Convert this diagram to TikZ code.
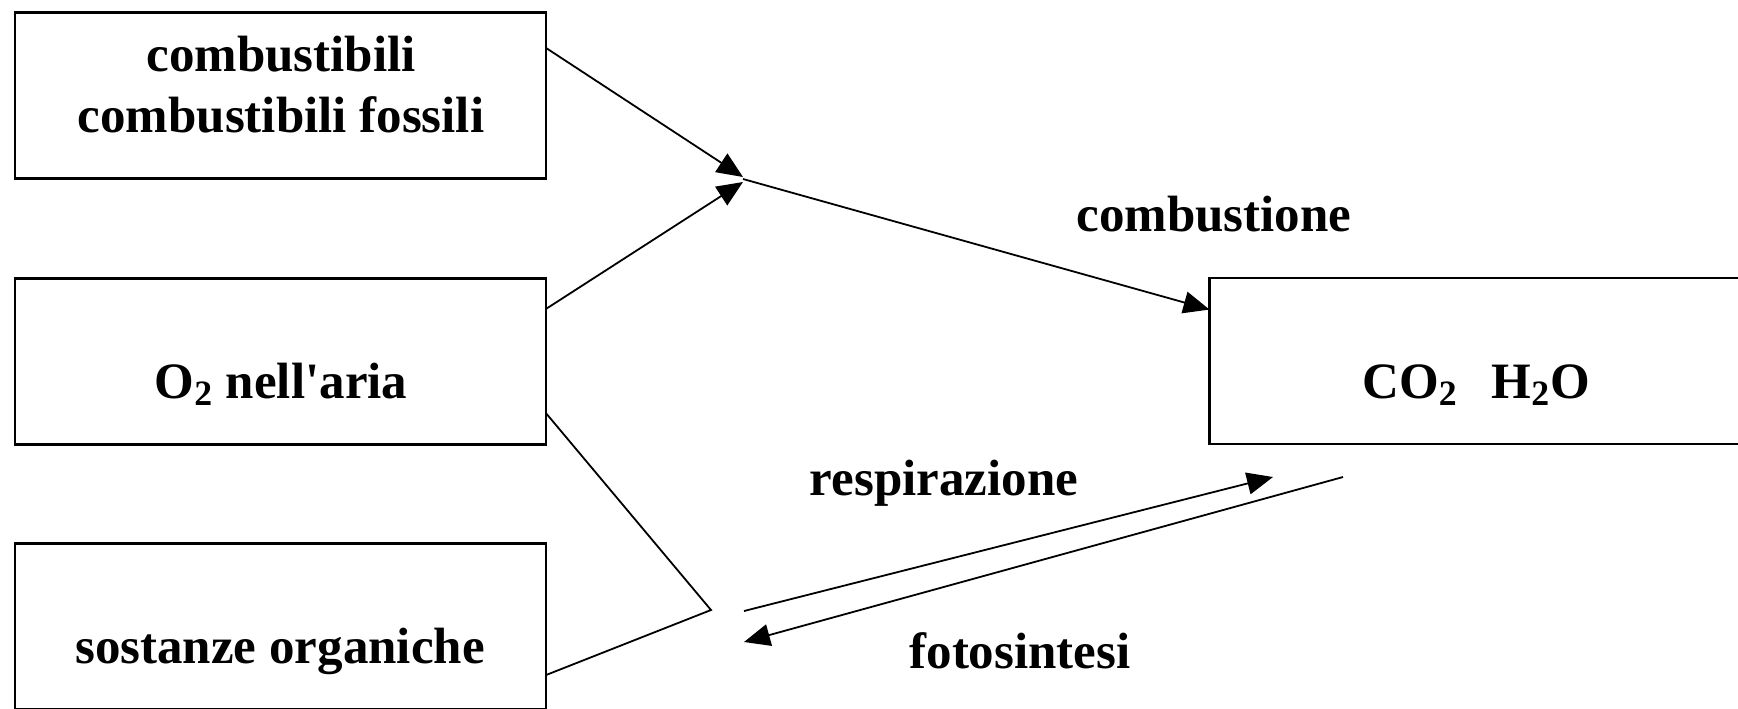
\documentclass[tikz,border=0pt]{standalone}
\usepackage{fontspec}
\setmainfont{Liberation Serif}
\usetikzlibrary{arrows.meta,calc}
\begin{document}
\begin{tikzpicture}[x=0.5pt,y=-0.5pt,
  box/.style={draw,line width=1.4pt,rectangle,minimum width=265.5pt,minimum height=83pt,inner sep=0pt,outer sep=0pt},
  txt/.style={inner sep=0pt,outer sep=0pt,font=\fontsize{25.5}{30.5}\selectfont\bfseries},
  conn/.style={line width=0.9pt},
  arr/.style={conn,-{Triangle[length=13pt,width=11pt]}}]
\useasboundingbox (0,0) rectangle (1738,708);
\fill[white] (0,0) rectangle (1738,708);
% boxes
\node[box] (fuel) at (280.4,95.5) {};
\node[box] (oxy) at (280.4,361.6) {};
\node[box] (org) at (280.4,626.1) {};
\node[box] (prod) at (1475,361) {};
% texts
\node[txt,align=center,anchor=south] (tfuel) at (281,133) {combustibili\\combustibili fossili};
\node[txt,anchor=base] (toxy) at (281,398) {O\textsubscript{2} nell\textquotesingle aria};
\node[txt,anchor=base] (torg) at (280,663) {sostanze organiche};
\node[txt,anchor=base] (tprod) at (1476,398) {CO\textsubscript{2}\hspace{17pt}H\textsubscript{2}O};
\node[txt,anchor=base] (lcomb) at (1214,231) {combustione};
\node[txt,anchor=base] (lresp) at (944,495) {respirazione};
\node[txt,anchor=base] (lfoto) at (1020,668) {fotosintesi};
% coordinates
\coordinate (tipA) at (743,177);
\coordinate (tipB) at (743,182);
\coordinate (meet) at (743,179);
\coordinate (junc) at (711,610);
\coordinate (respS) at (744,611);
\coordinate (respE) at (1273,477);
\coordinate (fotoS) at (1343,477);
\coordinate (fotoE) at (744,642);
% connectors
\draw[arr] ($(fuel.north east)!0.213!(fuel.south east)$) -- (tipA);
\draw[arr] ($(oxy.north east)!0.183!(oxy.south east)$) -- (tipB);
\draw[arr] (meet) -- ($(prod.north west)!0.19!(prod.south west)$);
\draw[conn] ($(oxy.north east)!0.81!(oxy.south east)$) -- (junc) -- ($(org.north east)!0.795!(org.south east)$);
\draw[arr] (respS) -- (respE);
\draw[arr] (fotoS) -- (fotoE);
\end{tikzpicture}
\end{document}
